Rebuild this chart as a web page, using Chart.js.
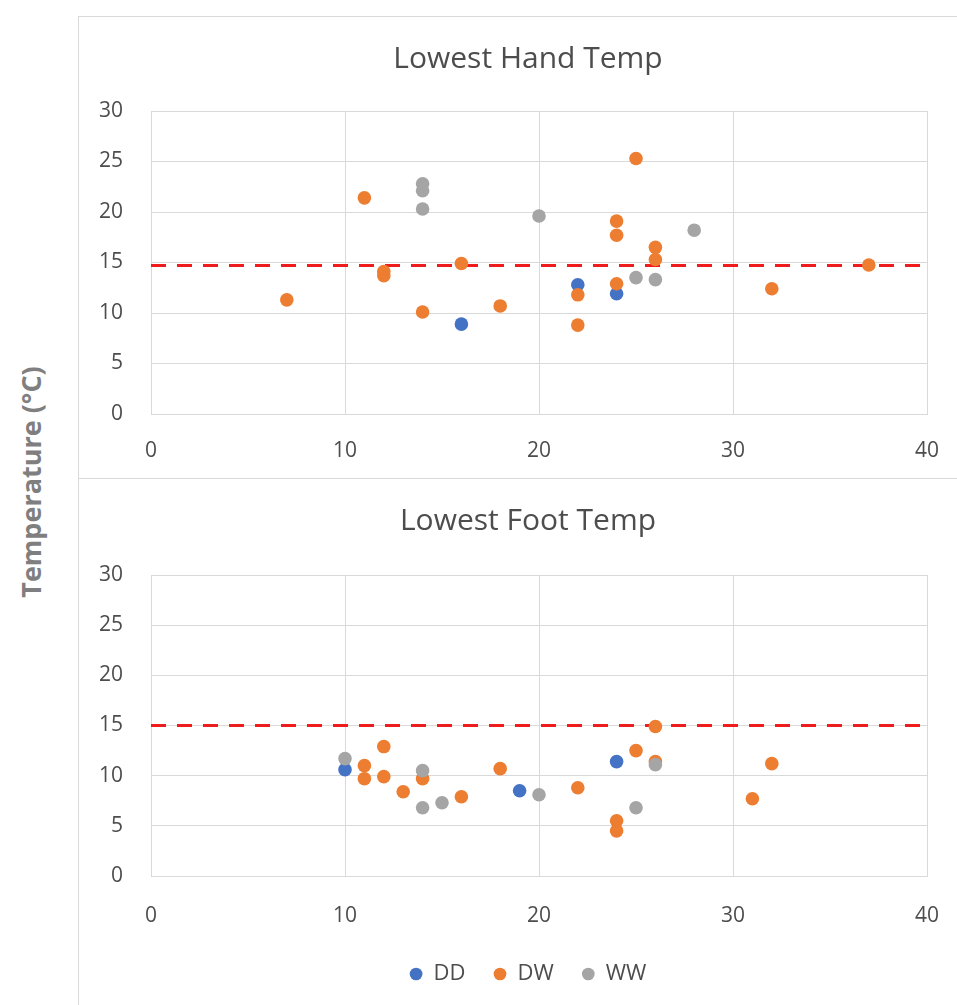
<!DOCTYPE html>
<html>
<head>
<meta charset="utf-8">
<style>
  html, body { margin: 0; padding: 0; background: #fff; overflow: hidden; }
  body { width: 957px; height: 1005px; position: relative; font-family: "Open Sans", sans-serif; }
  .panel { position: absolute; left: 78px; width: 900px; border: 1px solid #d9d9d9; }
  #handPanel { top: 16px; height: 461px; }
  #footPanel { top: 478px; height: 600px; }
  canvas { position: absolute; left: 79px; }
  #yTitle {
    position: absolute; left: 30px; top: 482px;
    transform: translate(-50%, -50%) rotate(-90deg);
    white-space: nowrap; font-weight: bold; font-size: 27px; color: #7f7f7f;
  }
</style>
</head>
<body>
<div class="panel" id="handPanel"></div>
<div class="panel" id="footPanel"></div>
<canvas id="handChart" width="898" height="461" style="top:17px"></canvas>
<canvas id="footChart" width="898" height="526" style="top:479px"></canvas>
<div id="yTitle">Temperature (°C)</div>

<script src="https://cdn.jsdelivr.net/npm/chart.js"></script>
<script>
  const xMin = 0, xMax = 40, xStep = 10;
  const yMin = 0, yMax = 30, yStep = 5;
  const handLimit = 14.7;
  const footLimit = 15.0;
  const seriesNames = ["DD", "DW", "WW"];
  const seriesColors = ["#4472c4", "#ed7d31", "#a5a5a5"];

  // lowest hand temperature, [x, °C]
  const handDD = [[16, 8.9], [22, 12.8], [24, 11.9]];
  const handDW = [
    [7, 11.3], [11, 21.4], [12, 14.1], [12, 13.7], [14, 10.1], [16, 14.9],
    [18, 10.7], [22, 11.8], [22, 8.8], [24, 19.1], [24, 17.7], [24, 12.9],
    [25, 25.3], [26, 16.5], [26, 15.3], [32, 12.4], [37, 14.75],
  ];
  const handWW = [[14, 22.8], [14, 22.1], [14, 20.3], [20, 19.6], [25, 13.5], [26, 13.3], [28, 18.2]];

  // lowest foot temperature, [x, °C]
  const footDD = [[10, 10.6], [19, 8.5], [24, 11.4]];
  const footDW = [
    [11, 11.0], [11, 9.7], [12, 12.9], [12, 9.9], [13, 8.4], [14, 9.7],
    [16, 7.9], [18, 10.7], [22, 8.8], [24, 5.5], [24, 4.5], [25, 12.5],
    [26, 14.9], [26, 11.4], [31, 7.7], [32, 11.2],
  ];
  const footWW = [[10, 11.7], [14, 10.5], [14, 6.8], [15, 7.3], [20, 8.1], [25, 6.8], [26, 11.1]];

  const textColor = "#4d4d4d";
  const gridColor = "#d9d9d9";

  function toPoints(pairs) {
    return pairs.map(([x, y]) => ({ x, y }));
  }

  // opts: title padding, x axis band height, x label offset, legend on/off
  function makeChart(id, title, series, limit, opts) {
    const datasets = series.map((pairs, i) => ({
      label: seriesNames[i],
      data: toPoints(pairs),
      backgroundColor: seriesColors[i],
      borderColor: seriesColors[i],
      borderWidth: 0,
      pointRadius: 6.8,
      pointHoverRadius: 6.8,
      order: 3 - i, // later series sit on top
    }));
    datasets.push({
      label: "limit",
      data: [{ x: xMin, y: limit }, { x: xMax, y: limit }],
      showLine: true,
      borderColor: "#ee1c1c",
      borderWidth: 3,
      borderDash: [15, 11],
      pointRadius: 0,
      order: 10,
    });

    return new Chart(document.getElementById(id), {
      type: "scatter",
      data: { datasets },
      options: {
        responsive: false,
        animation: false,
        layout: { padding: { left: 0, right: 0, top: 0, bottom: opts.legend ? 10 : 0 } },
        plugins: {
          tooltip: { enabled: false },
          title: {
            display: true,
            text: title,
            color: textColor,
            font: { family: "Open Sans", size: 30, weight: "normal" },
            padding: opts.titlePad,
          },
          legend: {
            display: opts.legend,
            position: "bottom",
            labels: {
              color: textColor,
              font: { family: "Open Sans", size: 22 },
              usePointStyle: true,
              pointStyle: "circle",
              boxWidth: 13,
              boxHeight: 9,
              padding: 28,
              filter: (item) => item.datasetIndex < 3,
              sort: (a, b) => a.datasetIndex - b.datasetIndex,
            },
          },
        },
        scales: {
          x: {
            type: "linear",
            min: xMin,
            max: xMax,
            ticks: { stepSize: xStep, color: textColor, font: { family: "Open Sans", size: 21 }, padding: 5 },
            grid: { color: gridColor, drawTicks: true, tickLength: opts.xLabelGap, tickColor: "rgba(0,0,0,0)" },
            border: { color: gridColor },
            afterFit: (scale) => { scale.height = opts.xBand; },
          },
          y: {
            min: yMin,
            max: yMax,
            ticks: { stepSize: yStep, color: textColor, font: { family: "Open Sans", size: 21 }, padding: 28 },
            grid: { color: gridColor, drawTicks: false },
            border: { color: gridColor },
            afterFit: (scale) => { scale.width = 72; },
          },
          // empty right-hand margin so title and legend centre like the plot
          yPad: {
            position: "right",
            min: yMin,
            max: yMax,
            ticks: { display: false },
            grid: { display: false, drawTicks: false },
            border: { display: false },
            afterFit: (scale) => { scale.width = 50; },
          },
        },
      },
    });
  }

  makeChart("handChart", "Lowest Hand Temp", [handDD, handDW, handWW], handLimit,
    { titlePad: { top: 24, bottom: 34 }, xBand: 64, xLabelGap: 19, legend: false });
  makeChart("footChart", "Lowest Foot Temp", [footDD, footDW, footWW], footLimit,
    { titlePad: { top: 24, bottom: 36 }, xBand: 59, xLabelGap: 22, legend: true });
</script>
</body>
</html>
